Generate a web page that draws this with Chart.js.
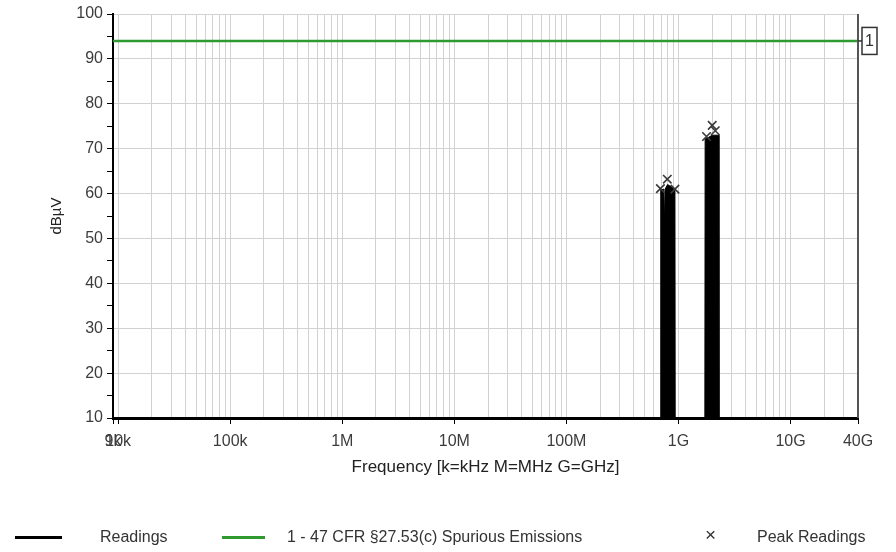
<!DOCTYPE html>
<html><head><meta charset="utf-8">
<script src="https://cdn.jsdelivr.net/npm/chart.js@4/dist/chart.umd.min.js"></script>
<style>
html,body{margin:0;padding:0;background:#fff;}
#wrap{position:relative;width:896px;height:552px;overflow:hidden;}
canvas{position:absolute;left:0;top:0;}
.leg{position:absolute;font-family:"Liberation Sans",Arial,sans-serif;font-size:16px;color:#333;top:527px;white-space:nowrap;line-height:19px;}
.ln{position:absolute;height:3px;top:536px;}
</style></head><body>
<div id="wrap"><canvas id="c" width="896" height="552"></canvas>
<div class="ln" style="left:15px;width:47px;background:#000"></div>
<div class="leg" style="left:100px">Readings</div>
<div class="ln" style="left:222px;width:43px;background:#2f9a2f"></div>
<div class="leg" style="left:287px">1 - 47 CFR §27.53(c) Spurious Emissions</div>
<div class="leg" style="left:705px;font-size:19px;top:525px">×</div>
<div class="leg" style="left:757px">Peak Readings</div>
</div>
<script>
// ---- data ----
const readingsFreq  = [9e3, 6.9e8, 6.95e8, 7.4e8, 7.5e8, 7.6e8, 8.0e8, 8.6e8, 9.3e8, 9.35e8, 1.72e9, 1.73e9, 1.85e9, 2.0e9, 2.28e9, 2.3e9, 4e10];
const readingsLevel = [10,  10,    60.8,   61,    53.4,  61,    62,    61.5,  61,    10,     10,     72.2,   72.5,   73,    73,     10,    10];
const limitFreq  = [9e3, 4e10];
const limitLevel = [94, 94];
const peakFreq  = [6.9e8, 7.95e8, 9.3e8, 1.78e9, 2.0e9, 2.13e9];
const peakLevel = [61.1, 63.2, 61.0, 72.7, 75.2, 74.0];
const xTickValues = [9e3, 1e4, 1e5, 1e6, 1e7, 1e8, 1e9, 1e10, 4e10];
const xTickLabels = ['9k', '10k', '100k', '1M', '10M', '100M', '1G', '10G', '40G'];
const yTickLabels = [10, 20, 30, 40, 50, 60, 70, 80, 90, 100];
const limitName = '1';

const pts = (xs, ys) => xs.map((x, i) => ({x, y: ys[i]}));

function xGridValues() {
  const out = [];
  for (let e = 3; e <= 10; e++) for (let k = 1; k <= 9; k++) {
    const v = k * Math.pow(10, e);
    if (v >= xTickValues[0] && v <= xTickValues[xTickValues.length - 1]) out.push(v);
  }
  xTickValues.forEach(v => { if (!out.some(o => Math.abs(o - v) / v < 1e-9)) out.push(v); });
  return out.sort((a, b) => a - b);
}
const isLabeled = v => xTickValues.some(t => Math.abs(t - v) / v < 1e-9);
const labelFor = v => { const i = xTickValues.findIndex(t => Math.abs(t - v) / v < 1e-9); return i >= 0 ? xTickLabels[i] : ''; };

const deco = {
  id: 'deco',
  afterDraw(chart) {
    const {ctx, chartArea: a, scales: {y}} = chart;
    ctx.save();
    ctx.strokeStyle = '#555'; ctx.lineWidth = 2;
    ctx.beginPath(); ctx.moveTo(a.right, a.top); ctx.lineTo(a.right, a.bottom); ctx.stroke();
    const yy = y.getPixelForValue(limitLevel[limitLevel.length - 1]);
    ctx.strokeStyle = '#333'; ctx.lineWidth = 1.5;
    ctx.beginPath(); ctx.moveTo(a.right, yy); ctx.lineTo(a.right + 4, yy); ctx.stroke();
    ctx.fillStyle = '#fff';
    ctx.fillRect(a.right + 4, yy - 13.5, 15, 27);
    ctx.strokeRect(a.right + 4, yy - 13.5, 15, 27);
    ctx.fillStyle = '#333'; ctx.font = '16px "Liberation Sans", Arial'; ctx.textAlign = 'center'; ctx.textBaseline = 'middle';
    ctx.fillText(limitName, a.right + 11.5, yy + 1);
    ctx.restore();
  }
};

Chart.defaults.font.family = '"Liberation Sans", Arial, sans-serif';
Chart.defaults.font.size = 16;
Chart.defaults.color = '#3c3c3c';

new Chart(document.getElementById('c'), {
  type: 'line',
  data: {
    datasets: [
      { label: 'Peak Readings', data: pts(peakFreq, peakLevel), showLine: false, pointStyle: 'crossRot', pointRadius: 6, borderColor: '#3a3a3a', borderWidth: 1.6, backgroundColor: '#3a3a3a' },
      { label: '1 - 47 CFR §27.53(c) Spurious Emissions', data: pts(limitFreq, limitLevel), borderColor: '#2f9a2f', borderWidth: 2.5, pointRadius: 0, fill: false },
      { label: 'Readings', data: pts(readingsFreq, readingsLevel), borderColor: '#000', backgroundColor: '#000', borderWidth: 1, pointRadius: 0, fill: 'start', tension: 0 }
    ]
  },
  options: {
    responsive: false, animation: false, devicePixelRatio: 1,
    layout: { padding: { top: 14, right: 38, bottom: 74, left: 0 } },
    plugins: { legend: { display: false }, tooltip: { enabled: false } },
    scales: {
      x: {
        type: 'logarithmic', min: xTickValues[0], max: xTickValues[xTickValues.length - 1],
        afterBuildTicks: s => { s.ticks = xGridValues().map(v => ({value: v})); },
        afterFit: s => { s.height = 60; },
        ticks: { autoSkip: false, maxRotation: 0, padding: 8, color: '#3c3c3c', callback: v => labelFor(v) },
        grid: { color: '#d2d2d2', lineWidth: 1, tickLength: 6, tickColor: c => isLabeled(c.tick.value) ? '#000' : 'rgba(0,0,0,0)' },
        border: { color: '#000', width: 3 },
        title: { display: true, text: 'Frequency [k=kHz M=MHz G=GHz]', color: '#222', font: { size: 17 }, padding: { top: 0, bottom: 0 } }
      },
      y: {
        min: yTickLabels[0], max: yTickLabels[yTickLabels.length - 1],
        afterBuildTicks: s => { const t = []; for (let v = yTickLabels[0]; v <= yTickLabels[yTickLabels.length - 1]; v += 5) t.push({value: v}); s.ticks = t; },
        afterFit: s => { s.width = 113; },
        ticks: { autoSkip: false, padding: 4, color: '#3c3c3c', callback: v => (yTickLabels.includes(v) ? String(v) : '') },
        grid: { color: c => (c.tick && c.tick.value % 10 === 0) ? '#d2d2d2' : 'rgba(0,0,0,0)', tickLength: 6, tickColor: '#000' },
        border: { color: '#000', width: 2 },
        title: { display: true, text: 'dBµV', color: '#222', font: { size: 15 }, padding: { top: 48, bottom: 0 } }
      }
    }
  },
  plugins: [deco]
});
</script>
</body></html>
